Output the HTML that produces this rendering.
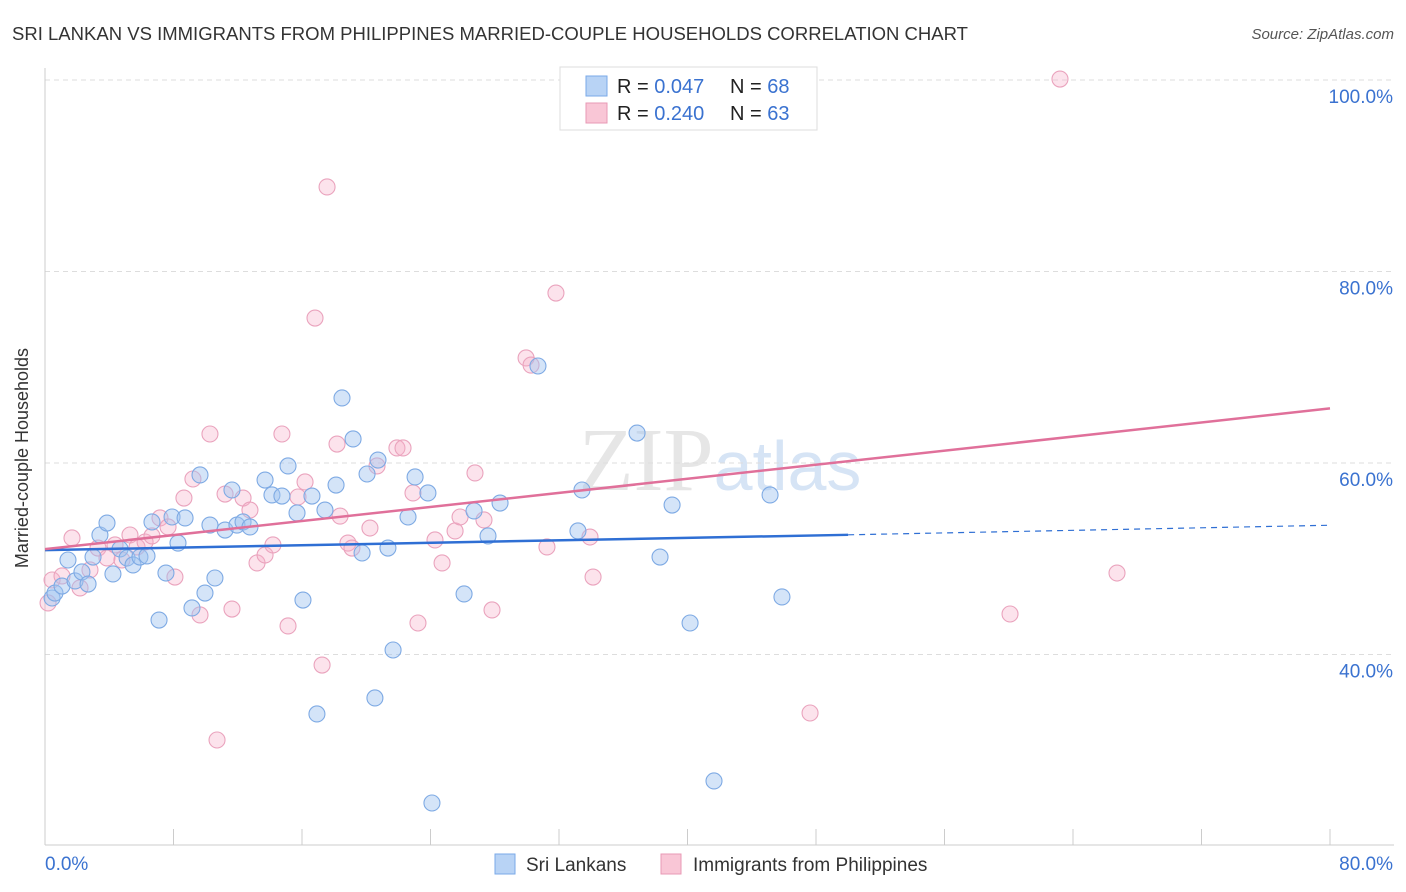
<!DOCTYPE html>
<html><head><meta charset="utf-8"><style>
body{margin:0;background:#fff;font-family:"Liberation Sans",sans-serif;}
svg{display:block}
</style></head><body>
<svg width="1406" height="892" xmlns="http://www.w3.org/2000/svg" font-family="Liberation Sans, sans-serif">
<text x="12" y="40" font-size="18" fill="#333" textLength="956" lengthAdjust="spacingAndGlyphs">SRI LANKAN VS IMMIGRANTS FROM PHILIPPINES MARRIED-COUPLE HOUSEHOLDS CORRELATION CHART</text>
<text x="1394" y="39" font-size="15" fill="#555" font-style="italic" text-anchor="end">Source: ZipAtlas.com</text>
<text x="720" y="490" font-size="90" fill="#e6e6e6" text-anchor="middle" font-family="Liberation Serif, serif">ZIP<tspan fill="#d6e4f5" font-family="Liberation Sans, sans-serif" font-size="70">atlas</tspan></text>
<g id="grid"></g>
<g id="axes"></g>
<g id="pts"></g>
<g id="trend"></g>
<text x="28" y="458" font-size="18" fill="#333" text-anchor="middle" transform="rotate(-90 28 458)">Married-couple Households</text>
<g>
<rect x="560" y="67" width="257" height="63" fill="#fff" stroke="#ddd"/>
<rect x="586" y="76" width="21" height="20" fill="#b8d3f5" stroke="#7aaae8"/>
<rect x="586" y="103" width="21" height="20" fill="#f9c6d6" stroke="#e899b5"/>
<text x="617" y="93" font-size="20" fill="#222">R = <tspan fill="#3a72d0">0.047</tspan></text>
<text x="730" y="93" font-size="20" fill="#222">N = <tspan fill="#3a72d0">68</tspan></text>
<text x="617" y="120" font-size="20" fill="#222">R = <tspan fill="#3a72d0">0.240</tspan></text>
<text x="730" y="120" font-size="20" fill="#222">N = <tspan fill="#3a72d0">63</tspan></text>
</g>
<g>
<rect x="495" y="854" width="20" height="20" fill="#b8d3f5" stroke="#7aaae8"/>
<text x="526" y="871" font-size="19" fill="#333">Sri Lankans</text>
<rect x="661" y="854" width="20" height="20" fill="#f9c6d6" stroke="#e899b5"/>
<text x="693" y="871" font-size="19" fill="#333">Immigrants from Philippines</text>
</g>
</svg>
<script>
const yTicks=[100,80,60,40];
const yTickLabels=["100.0%","80.0%","60.0%","40.0%"];
const xTicks=[0,8,16,24,32,40,48,56,64,72,80];
const bluePx=[[52,598],[55,593],[62,586],[68,560],[75,581],[82,572],[88,584],[93,557],[100,535],[107,523],[113,574],[120,549],[127,558],[133,565],[140,557],[147,556],[152,522],[159,620],[166,573],[172,517],[178,543],[185,518],[192,608],[200,475],[205,593],[210,525],[215,578],[225,530],[232,490],[237,525],[243,522],[250,527],[265,480],[272,495],[282,496],[288,466],[297,513],[303,600],[312,496],[317,714],[325,510],[336,485],[342,398],[353,439],[362,553],[367,474],[378,460],[375,698],[388,548],[393,650],[408,517],[415,477],[428,493],[432,803],[464,594],[474,511],[488,536],[500,503],[538,366],[578,531],[582,490],[637,433],[660,557],[672,505],[690,623],[714,781],[770,495],[782,597]];
const pinkPx=[[48,603],[52,580],[62,576],[72,538],[80,588],[90,570],[98,548],[107,558],[115,545],[122,560],[130,535],[137,547],[145,542],[152,536],[160,518],[168,527],[175,577],[184,498],[193,479],[200,615],[210,434],[225,494],[232,609],[243,498],[250,510],[257,563],[265,555],[273,545],[282,434],[288,626],[298,497],[305,482],[315,318],[322,665],[327,187],[337,444],[340,516],[348,543],[352,548],[370,528],[377,466],[397,448],[403,448],[413,493],[418,623],[435,540],[442,563],[455,531],[460,517],[475,473],[484,520],[492,610],[526,358],[531,365],[547,547],[556,293],[590,537],[593,577],[810,713],[1010,614],[1060,79],[1117,573],[217,740]];
const blueX=bluePx.map(p=>+((p[0]-45)/1285*80).toFixed(2));
const blueY=bluePx.map(p=>+(100-(p[1]-80)/9.575).toFixed(2));
const pinkX=pinkPx.map(p=>+((p[0]-45)/1285*80).toFixed(2));
const pinkY=pinkPx.map(p=>+(100-(p[1]-80)/9.575).toFixed(2));
const blueTrend=[[0,50.9],[50,52.5],[80,53.5]];
const pinkTrend=[[0,51.0],[80,65.7]];
const X=v=>45+v/80*1285, Y=v=>80+(100-v)*9.575;
const NS="http://www.w3.org/2000/svg";
function mk(t,a,p){const e=document.createElementNS(NS,t);for(const k in a)e.setAttribute(k,a[k]);p.appendChild(e);return e;}
const grid=document.getElementById('grid'),axes=document.getElementById('axes'),pts=document.getElementById('pts'),tr=document.getElementById('trend');
yTicks.forEach((v,i)=>{const l=mk('line',{x1:45,x2:1394,y1:Y(v),y2:Y(v),stroke:'#ddd','stroke-dasharray':'5,4'},grid);

const t=mk('text',{x:1393,y:Y(v)+23,'font-size':19,fill:'#3a72d0','text-anchor':'end'},axes);t.textContent=yTickLabels[i];
});
const ax=mk('line',{x1:45,x2:45,y1:68,y2:845,stroke:'#ccc'},axes);
const bx=mk('line',{x1:45,x2:1394,y1:845,y2:845,stroke:'#ccc'},axes);
xTicks.forEach(v=>{const l=mk('line',{x1:X(v),x2:X(v),y1:829,y2:845,stroke:'#ccc'},axes);});
[[0,'0.0%','start',45],[80,'80.0%','end',1393]].forEach(d=>{const t=mk('text',{x:d[3],y:870,'font-size':19,fill:'#3a72d0','text-anchor':d[2]},axes);t.textContent=d[1];});
function dots(xs,ys,fill,stroke,name){xs.forEach((x,i)=>{const c=mk('circle',{cx:X(x),cy:Y(ys[i]),r:8,fill:fill,stroke:stroke,'stroke-width':1.1},pts);});}
dots(pinkX,pinkY,'rgba(246,176,200,0.35)','#eaa3bd','point-philippines');
dots(blueX,blueY,'rgba(160,196,240,0.45)','#7eaae4','point-sri-lankan');
const b1=mk('line',{x1:X(blueTrend[0][0]),y1:Y(blueTrend[0][1]),x2:X(blueTrend[1][0]),y2:Y(blueTrend[1][1]),stroke:'#2f6fd4','stroke-width':2.5},tr);
const b2=mk('line',{x1:X(blueTrend[1][0]),y1:Y(blueTrend[1][1]),x2:X(blueTrend[2][0]),y2:Y(blueTrend[2][1]),stroke:'#2f6fd4','stroke-width':1.2,'stroke-dasharray':'6,5'},tr);
const p1=mk('line',{x1:X(pinkTrend[0][0]),y1:Y(pinkTrend[0][1]),x2:X(pinkTrend[1][0]),y2:Y(pinkTrend[1][1]),stroke:'#e0709a','stroke-width':2.5},tr);
</script>
</body></html>
